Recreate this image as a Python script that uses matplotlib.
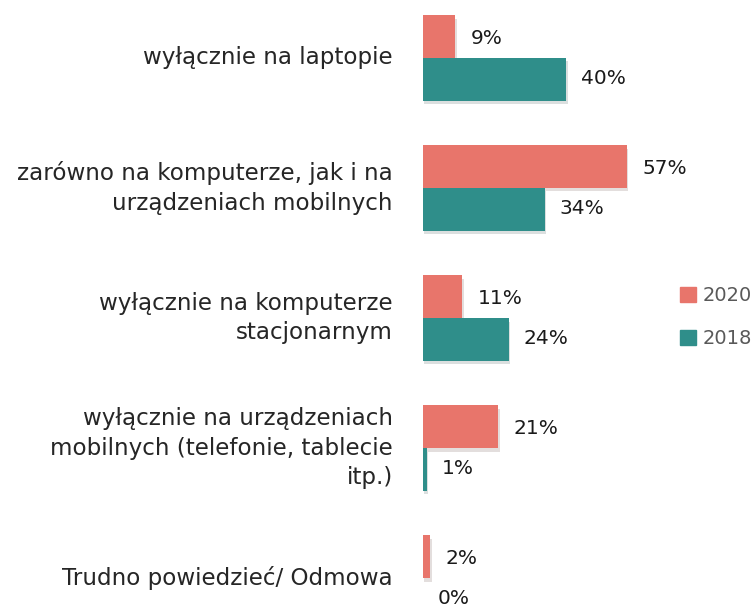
import numpy as np
import matplotlib.pyplot as plt
import matplotlib.patheffects as pe
from matplotlib.patches import Patch

plt.rcParams['font.family'] = ['DejaVu Sans']

# %%
categories = ['wyłącznie na laptopie',
              'zarówno na komputerze, jak i na\nurządzeniach mobilnych',
              'wyłącznie na komputerze\nstacjonarnym',
              'wyłącznie na urządzeniach\nmobilnych (telefonie, tablecie\nitp.)',
              'Trudno powiedzieć/ Odmowa']
vals_2020 = [9, 57, 11, 21, 2]
vals_2018 = [40, 34, 24, 1, 0]
series_names = ['2020', '2018']
col_2020 = '#E8756B'
col_2018 = '#2F8E8A'

# %%
fig = plt.figure(figsize=(7.56, 6.08), dpi=100)
ax = fig.add_axes([423/756, 0, 358/756, 1])

y = np.arange(len(categories))
h = 0.33
shadow = [pe.SimplePatchShadow(offset=(1, -2.5), alpha=0.15), pe.Normal()]
b1 = ax.barh(y - h/2, vals_2020, height=h, color=col_2020)
b2 = ax.barh(y + h/2, vals_2018, height=h, color=col_2018)
for b in list(b1) + list(b2):
    b.set_path_effects(shadow)

for yy, v in zip(y - h/2, vals_2020):
    ax.text(v + 4.2, yy + 0.015, '{}%'.format(v), va='center', ha='left', fontsize=14.5, color='#1a1a1a')
for yy, v in zip(y + h/2, vals_2018):
    ax.text(v + 4.2, yy - 0.005, '{}%'.format(v), va='center', ha='left', fontsize=14.5, color='#1a1a1a')

for yy, c in zip(y, categories):
    ax.text(-8.4, yy, c, va='center', ha='right', fontsize=16.6, color='#262626',
            linespacing=1.35)

ax.set_xlim(0, 100)
ax.set_ylim(4.23, -0.446)
ax.axis('off')

handles = [Patch(color=col_2020), Patch(color=col_2018)]
leg = fig.legend(handles=handles, labels=series_names, loc='center left',
                 bbox_to_anchor=(680/756, 1 - 317/608), frameon=False,
                 fontsize=14, handlelength=0.8, handleheight=0.8,
                 handletextpad=0.35, labelspacing=1.25, borderpad=0,
                 borderaxespad=0)
for t in leg.get_texts():
    t.set_color('#595959')

fig.savefig('out.png', dpi=100)
